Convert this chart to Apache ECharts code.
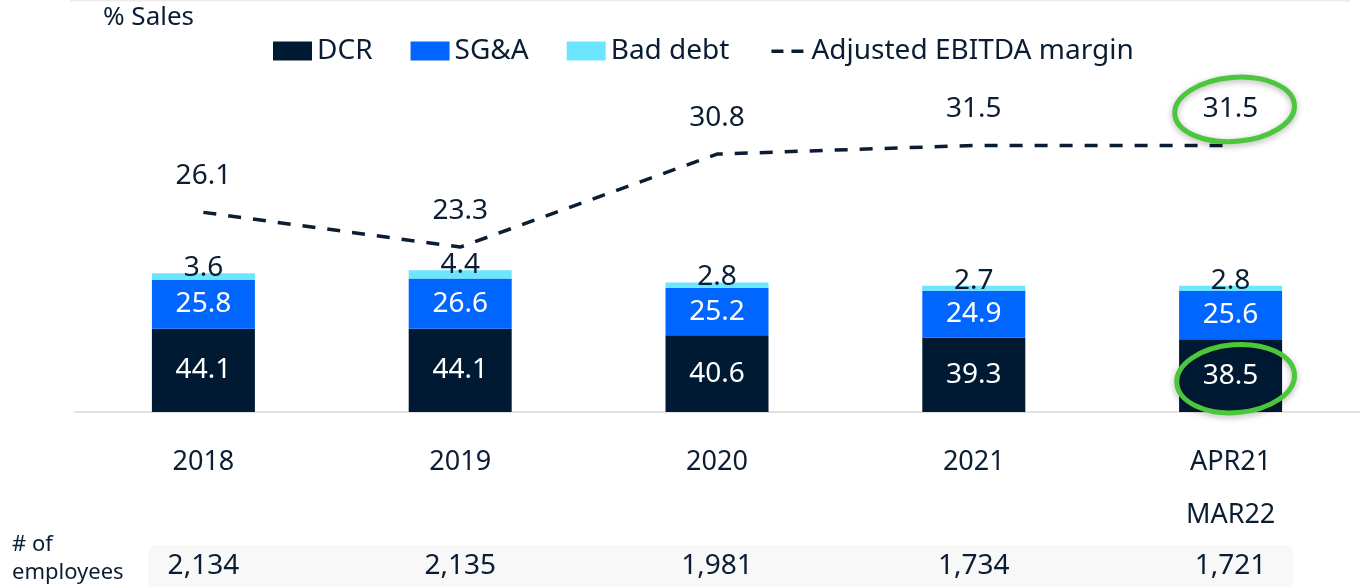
<!DOCTYPE html>
<html>
<head>
<meta charset="utf-8">
<script src="https://cdn.jsdelivr.net/npm/echarts@6/dist/echarts.min.js"></script>
<style>
html,body{margin:0;padding:0;background:#fff;}
#chart{width:1364px;height:587px;}
</style>
</head>
<body>
<div id="chart"></div>
<script>
const categories = ['2018', '2019', '2020', '2021', 'APR21\nMAR22'];
const dcr = [44.1, 44.1, 40.6, 39.3, 38.5];
const sga = [25.8, 26.6, 25.2, 24.9, 25.6];
const badDebt = [3.6, 4.4, 2.8, 2.7, 2.8];
const ebitda = [26.1, 23.3, 30.8, 31.5, 31.5];
const employees = ['2,134', '2,135', '1,981', '1,734', '1,721'];

const FONT = "'Noto Sans', 'Open Sans', sans-serif";
const DARK = '#0b1d33';

const chart = echarts.init(document.getElementById('chart'), null, {renderer: 'canvas'});

const option = {
  animation: false,
  backgroundColor: '#ffffff',
  textStyle: {fontFamily: FONT, color: DARK},
  title: {
    text: '% Sales',
    left: 98, top: 0,
    textStyle: {fontFamily: FONT, fontSize: 26, fontWeight: 'normal', color: DARK}
  },
  legend: {
    left: 268, top: 32,
    itemWidth: 39, itemHeight: 19, itemGap: 38,
    textStyle: {fontFamily: FONT, fontSize: 28, color: DARK},
    data: [
      {name: 'DCR', icon: 'rect'},
      {name: 'SG&A', icon: 'rect'},
      {name: 'Bad debt', icon: 'rect'},
      {name: 'Adjusted EBITDA margin',
       icon: 'path://M0,0L0,0M39,19L39,19M4,8H16V11.5H4ZM24,8H36V11.5H24Z',
       itemStyle: {color: DARK, borderWidth: 0, opacity: 1}}
    ]
  },
  grid: {left: 75, right: 5, top: 40, bottom: 175, containLabel: false},
  xAxis: [
    {
      type: 'category', data: categories, position: 'bottom',
      axisLine: {show: true, lineStyle: {color: '#e2e2e2', width: 2}},
      axisTick: {show: false},
      axisLabel: {fontFamily: FONT, fontSize: 27, color: DARK, lineHeight: 53, margin: 24}
    },
    {
      type: 'category', data: employees, position: 'bottom',
      axisLine: {show: false}, axisTick: {show: false},
      axisLabel: {fontFamily: FONT, fontSize: 28, color: DARK, lineHeight: 34, margin: 137}
    }
  ],
  yAxis: [
    {type: 'value', min: 0, max: 197, show: false, splitLine: {show: false}},
    {type: 'value', min: 10, max: 40, show: false, splitLine: {show: false}}
  ],
  series: [
    {
      name: 'DCR', type: 'bar', stack: 'cost', data: dcr, barWidth: 103,
      itemStyle: {color: '#001a33'},
      label: {show: true, position: 'inside', color: '#ffffff', fontFamily: FONT, fontSize: 28}
    },
    {
      name: 'SG&A', type: 'bar', stack: 'cost', data: sga, barWidth: 103,
      itemStyle: {color: '#0066ff'},
      label: {show: true, position: 'inside', color: '#ffffff', fontFamily: FONT, fontSize: 28}
    },
    {
      name: 'Bad debt', type: 'bar', stack: 'cost', data: badDebt, barWidth: 103,
      itemStyle: {color: '#6ce5ff'},
      label: {show: true, position: 'top', distance: -9, color: DARK, fontFamily: FONT, fontSize: 28}
    },
    {
      name: 'Adjusted EBITDA margin', type: 'line', yAxisIndex: 1, data: ebitda,
      symbol: 'circle', symbolSize: 1, showSymbol: true, z: 5,
      lineStyle: {color: DARK, width: 3.5, type: [13, 12]},
      itemStyle: {color: 'rgba(0,0,0,0)', borderWidth: 0},
      label: {show: true, position: 'top', distance: 22, color: DARK, fontFamily: FONT, fontSize: 28}
    }
  ]
};
chart.setOption(option);

const pLine = chart.convertToPixel({seriesIndex: 3}, [4, ebitda[4]]);
const pBar = chart.convertToPixel({seriesIndex: 0}, [4, dcr[4] / 2]);
const green = '#4cc63c';
chart.setOption({
  graphic: [
    {type: 'line', z: -1, shape: {x1: 70, y1: 0.5, x2: 1350, y2: 0.5},
     style: {stroke: '#ececec', lineWidth: 2}},
    {type: 'rect', z: -1, shape: {x: 148, y: 545, width: 1145, height: 60, r: 8},
     style: {fill: '#f8f8f8'}},
    {type: 'text', left: 12, top: 531,
     style: {text: '# of\nemployees', font: "22px " + FONT, fill: DARK, lineHeight: 28}},
    {type: 'ellipse', z: 20, x: pLine[0] + 4, y: pLine[1] - 36, rotation: 0.08,
     shape: {cx: 0, cy: 0, rx: 60, ry: 32},
     style: {fill: 'none', stroke: green, lineWidth: 5, shadowBlur: 6, shadowColor: 'rgba(0,0,0,0.3)', shadowOffsetY: 2}},
    {type: 'ellipse', z: 20, x: pBar[0] + 5, y: pBar[1] + 3, rotation: 0.08,
     shape: {cx: 0, cy: 0, rx: 59, ry: 34},
     style: {fill: 'none', stroke: green, lineWidth: 5, shadowBlur: 6, shadowColor: 'rgba(0,0,0,0.3)', shadowOffsetY: 2}}
  ]
});
</script>
</body>
</html>
